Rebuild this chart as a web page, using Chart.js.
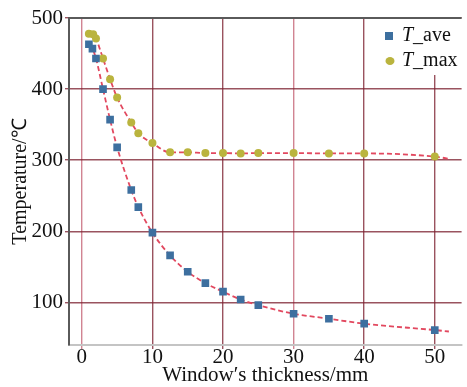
<!DOCTYPE html>
<html>
<head>
<meta charset="utf-8">
<script src="https://cdn.jsdelivr.net/npm/chart.js@4"></script>
<style>
  body { margin: 0; background: #fff; }
  #wrap { width: 467px; height: 387px; }
</style>
</head>
<body>
<div id="wrap"><canvas id="tempChart" width="467" height="387"></canvas></div>
<script>
// window thickness (mm) at each simulated case
const thickness = [1, 1.5, 2, 3, 4, 5, 7, 8, 10, 12.5, 15, 17.5, 20, 22.5, 25, 30, 35, 40, 50];
const tAve = [463, 457, 443, 400, 357, 318, 258, 234, 198, 166, 143, 127, 115, 104, 96, 84, 77, 70, 61];
const tMaxX = [1, 1.6, 2, 3, 4, 5, 7, 8, 10, 12.5, 15, 17.5, 20, 22.5, 25, 30, 35, 40, 50];
const tMax = [478, 477, 471, 443, 414, 388, 353, 338, 324, 311, 311, 310, 310, 309.5, 310, 310, 309.5, 309.5, 305];

// the fitted curves run a little past the last case
const aveTail = [52, 59];
const maxTail = [52, 302];

const xTicks = [0, 10, 20, 30, 40, 50];
const yTicks = [100, 200, 300, 400, 500];

const FONT = "'Liberation Serif', 'Times New Roman', serif";
const BLUE = '#3d6f9f';
const OLIVE = '#bab43e';
const FIT = '#e2485f';

const pts = (xs, ys) => xs.map((x, i) => ({ x, y: ys[i] }));

const fitLine = (data) => ({
  type: 'line',
  data,
  borderColor: FIT,
  borderWidth: 1.8,
  borderDash: [5, 3],
  pointRadius: 0,
  cubicInterpolationMode: 'monotone',
  fill: false,
  order: 2,
});

// frame + legend drawn by hand (italic T in the labels)
const framePlugin = {
  id: 'frame',
  afterDatasetsDraw(chart) {
    const { ctx, chartArea: a } = chart;
    ctx.save();
    ctx.strokeStyle = '#5a5a5a';
    ctx.lineWidth = 2;
    ctx.beginPath();
    ctx.moveTo(a.left, a.top);
    ctx.lineTo(a.right, a.top);
    ctx.stroke();

    // legend box
    ctx.fillStyle = '#fff';
    ctx.fillRect(380, a.top + 1, a.right - 380, 56);
    const rows = [
      { y: 36, color: BLUE, shape: 'rect', rest: '_ave' },
      { y: 61, color: OLIVE, shape: 'circle', rest: '_max' },
    ];
    rows.forEach(r => {
      ctx.fillStyle = r.color;
      if (r.shape === 'rect') {
        ctx.fillRect(385, r.y - 4, 8, 8);
      } else {
        ctx.beginPath();
        ctx.ellipse(390, r.y, 4.5, 4, 0, 0, Math.PI * 2);
        ctx.fill();
      }
      ctx.fillStyle = '#111';
      ctx.textBaseline = 'middle';
      ctx.font = 'italic 20px ' + FONT;
      ctx.fillText('T', 402, r.y);
      const w = ctx.measureText('T').width;
      ctx.font = '20px ' + FONT;
      ctx.fillText(r.rest, 402 + w, r.y);
    });
    ctx.restore();
  },
};

const gridColor = (c) => {
  const v = c.tick && c.tick.value;
  if (c.scale.axis === 'x' && (v === 0 || v === 30)) return 'rgba(190, 80, 100, 0.7)';
  return 'rgba(125, 35, 50, 0.78)';
};

new Chart(document.getElementById('tempChart'), {
  type: 'scatter',
  data: {
    datasets: [
      {
        label: 'T_ave',
        data: pts(thickness, tAve),
        pointStyle: 'rect',
        pointRadius: 5.4,
        pointBackgroundColor: BLUE,
        pointBorderWidth: 0,
        order: 1,
      },
      {
        label: 'T_max',
        data: pts(tMaxX, tMax),
        pointStyle: 'circle',
        pointRadius: 4,
        pointBackgroundColor: OLIVE,
        pointBorderWidth: 0,
        order: 1,
      },
      fitLine(pts(thickness.concat(aveTail[0]), tAve.concat(aveTail[1]))),
      fitLine(pts(tMaxX.concat(maxTail[0]), tMax.concat(maxTail[1]))),
    ],
  },
  options: {
    responsive: false,
    animation: false,
    layout: { padding: { top: 18, right: 0, left: 0, bottom: 0 } },
    plugins: { legend: { display: false }, tooltip: { enabled: false } },
    scales: {
      x: {
        type: 'linear',
        min: -1.82,
        max: 53.8,
        afterBuildTicks: (s) => { s.ticks = xTicks.map(v => ({ value: v })); },
        afterFit: (s) => { s.height = 42; },
        ticks: { color: '#111', font: { family: FONT, size: 21 }, padding: -4, maxRotation: 0 },
        grid: { color: gridColor, lineWidth: 1.4, tickLength: 4 },
        border: { color: '#c4c4c4', width: 2 },
        title: {
          display: true,
          text: 'Window′s thickness/mm',
          color: '#111',
          font: { family: FONT, size: 21, lineHeight: 1 },
          padding: { top: 0, bottom: 1 },
        },
      },
      y: {
        type: 'linear',
        min: 40,
        max: 500,
        afterBuildTicks: (s) => { s.ticks = yTicks.map(v => ({ value: v })); },
        afterFit: (s) => { s.width = 69; },
        ticks: { color: '#111', font: { family: FONT, size: 21 }, padding: 2 },
        grid: { color: gridColor, lineWidth: 1.4, tickLength: 4 },
        border: { color: '#5a5a5a', width: 2 },
        title: {
          display: true,
          text: 'Temperature/℃',
          color: '#111',
          font: { family: FONT, size: 20, lineHeight: 1 },
          padding: { top: 11, bottom: 0 },
        },
      },
    },
  },
  plugins: [framePlugin],
});
</script>
</body>
</html>
